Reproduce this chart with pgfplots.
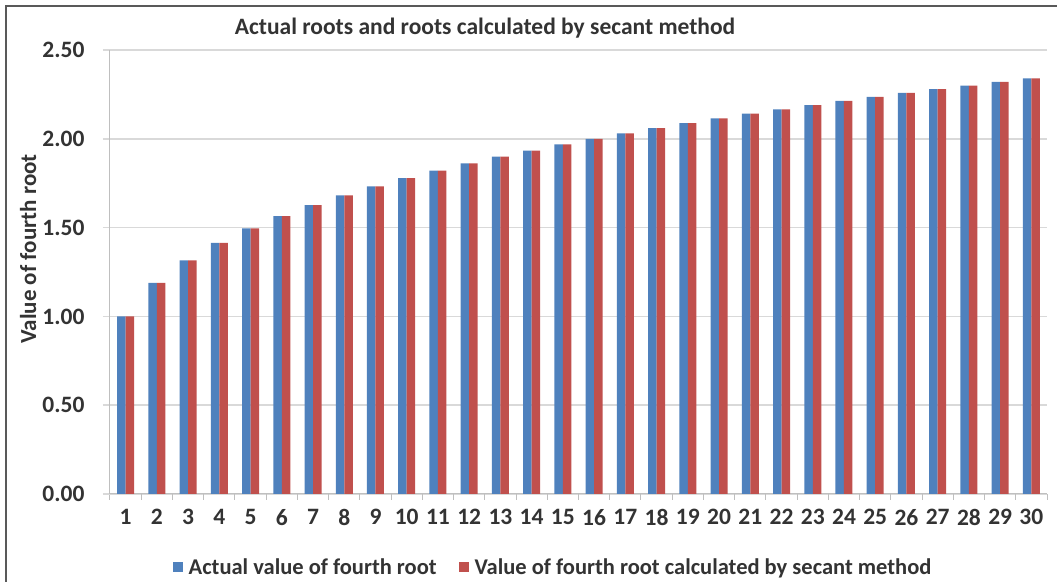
\documentclass[border=0pt]{standalone}
\usepackage{pgfplots}
\pgfplotsset{compat=1.18}
\usepackage{fontspec}
\setmainfont{Carlito}
\definecolor{cblue}{HTML}{4F81BD}
\definecolor{cred}{HTML}{C0504D}
\definecolor{gridc}{HTML}{D9D9D9}
\definecolor{axc}{HTML}{BFBFBF}
\definecolor{txt}{HTML}{333333}
\begin{document}
\begin{tikzpicture}[x=1bp,y=1bp]
\begin{axis}[
  scale only axis, width=937bp, height=444bp,
  xmin=0.5, xmax=30.5, ymin=0, ymax=2.5,
  ybar, bar width=8.5bp,
  xtick={1,...,30}, major x tick style={draw=none},
  minor xtick={0.5,1.5,...,30.5}, minor x tick style={draw=axc, line width=1pt},
  minor tick length=6bp,
  ytick={0,0.5,1,1.5,2,2.5},
  yticklabel style={/pgf/number format/fixed, /pgf/number format/fixed zerofill, /pgf/number format/precision=2},
  /pgf/number format/assume math mode=true,
  major y tick style={draw=gridc, line width=1.5pt}, major tick length=7bp,
  tick align=outside,
  ymajorgrids, grid style={draw=gridc, line width=1.5pt},
  axis x line*=bottom, axis y line*=left,
  axis line style={draw=axc, line width=1pt},
  x axis line style={-}, y axis line style={-},
  tick label style={font=\fontsize{23.5bp}{25bp}\selectfont\bfseries, text=txt},
  xticklabel style={yshift=-5bp},
  yticklabel style={xshift=-15bp},
  ylabel={Value of fourth root},
  ylabel style={font=\fontsize{23bp}{25bp}\selectfont\bfseries, text=txt, at={(axis description cs:-0.0874,0.552)}, anchor=center},
  legend style={at={(443bp,-73bp)}, anchor=center, draw=none, legend columns=2,
    font=\fontsize{22.5bp}{24bp}\selectfont\bfseries, text=txt,
    /tikz/every even column/.append style={column sep=20bp}},
  legend image code/.code={\fill[#1] (-4bp,-5bp) rectangle (6bp,5bp);},
]
\addplot[fill=cblue, draw=none, bar shift=-4.25bp] coordinates {
(1,1.000) (2,1.189) (3,1.316) (4,1.414) (5,1.495) (6,1.565) (7,1.627) (8,1.682) (9,1.732) (10,1.778)
(11,1.821) (12,1.861) (13,1.899) (14,1.934) (15,1.968) (16,2.000) (17,2.031) (18,2.060) (19,2.088) (20,2.115)
(21,2.141) (22,2.166) (23,2.190) (24,2.213) (25,2.236) (26,2.258) (27,2.280) (28,2.300) (29,2.321) (30,2.340)};
\addplot[fill=cred, draw=none, bar shift=4.25bp] coordinates {
(1,1.000) (2,1.189) (3,1.316) (4,1.414) (5,1.495) (6,1.565) (7,1.627) (8,1.682) (9,1.732) (10,1.778)
(11,1.821) (12,1.861) (13,1.899) (14,1.934) (15,1.968) (16,2.000) (17,2.031) (18,2.060) (19,2.088) (20,2.115)
(21,2.141) (22,2.166) (23,2.190) (24,2.213) (25,2.236) (26,2.258) (27,2.280) (28,2.300) (29,2.321) (30,2.340)};
\legend{\hspace{4bp}Actual value of fourth root, \hspace{4bp}Value of fourth root calculated by secant method}
\end{axis}
\node[font=\fontsize{23.5bp}{25bp}\selectfont\bfseries, text=txt] at (375,466) {Actual roots and roots calculated by secant method};
\draw[draw=black!65, line width=1.5pt] (-104,-100) -- (-104,488) -- (960,488);
\pgfresetboundingbox
\path[use as bounding box] (-110,-88) rectangle (947,494);
\end{tikzpicture}
\end{document}
